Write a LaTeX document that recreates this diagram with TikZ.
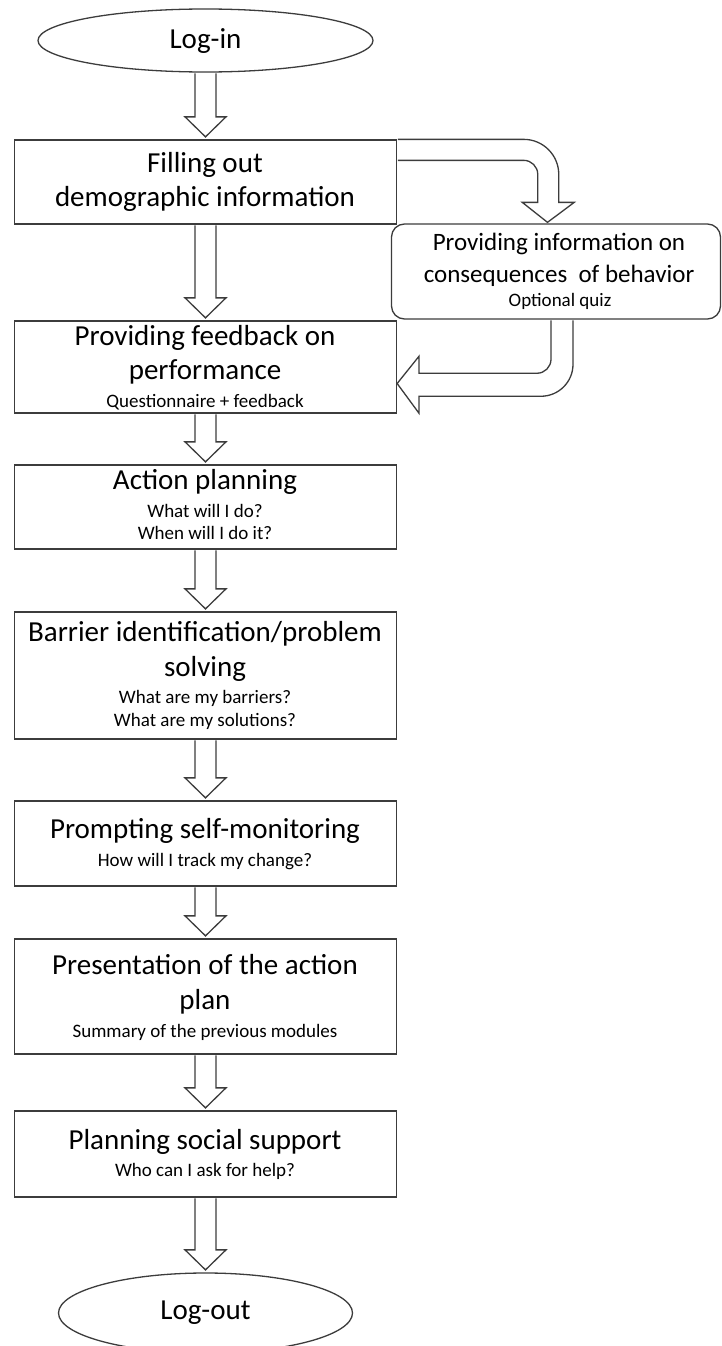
\documentclass[tikz,border=0pt]{standalone}
\usepackage{fontspec}
\setmainfont{Carlito}
\usetikzlibrary{calc,shapes.geometric}
\definecolor{linecol}{RGB}{60,60,60}
\tikzset{
  flowbox/.style={draw=linecol, line width=1.3pt, rectangle, minimum width=382pt, inner sep=0pt, fill=white},
  term/.style={draw=linecol, line width=1.3pt, ellipse, inner sep=0pt, fill=white, font=\fontsize{29}{34}\selectfont},
  bigtxt/.style={font=\fontsize{29}{34}\selectfont, anchor=base, yshift=-6.5pt, inner sep=0pt},
  midtxt/.style={font=\fontsize{25}{30}\selectfont, anchor=base, yshift=-5.6pt, inner sep=0pt},
  smalltxt/.style={font=\fontsize{19}{23}\selectfont, anchor=base, yshift=-4.3pt, inner sep=0pt},
  blockarrow/.style={draw=linecol, line width=1.3pt, fill=white, line join=miter}
}
\newcommand\vblock[2]{%
  \draw[blockarrow] ($(#1.south)+(-10.5,0.6)$) -- ($(#2.north)+(-10.5,-22.5)$)
    -- ($(#2.north)+(-20.5,-22.5)$) -- ($(#2.north)+(0,-2.5)$)
    -- ($(#2.north)+(20.5,-22.5)$) -- ($(#2.north)+(10.5,-22.5)$)
    -- ($(#1.south)+(10.5,0.6)$);}
\begin{document}
\begin{tikzpicture}[x=1pt,y=-1pt]
\useasboundingbox (0,0) rectangle (722,1346);

% terminals
\node[term, minimum width=335pt, minimum height=63pt, text height=22pt, text depth=6pt] (login) at (205.5,40.5) {Log-in};
\node[term, minimum width=294pt, minimum height=80pt, text height=20pt, text depth=7pt] (logout) at (205.5,1313) {Log-out};

% boxes
\node[flowbox, minimum height=84pt]  (b1) at (205.5,182) {};
\node[flowbox, minimum height=92pt]  (b2) at (205.5,367) {};
\node[flowbox, minimum height=84pt]  (b3) at (205.5,507) {};
\node[flowbox, minimum height=127pt] (b4) at (205.5,675.5) {};
\node[flowbox, minimum height=85pt]  (b5) at (205.5,843.5) {};
\node[flowbox, minimum height=115pt] (b6) at (205.5,996.5) {};
\node[flowbox, minimum height=86pt]  (b7) at (205.5,1154) {};
\node[flowbox, rounded corners=13pt, minimum width=329pt, minimum height=95pt] (rb) at (556,271.5) {};

% texts
\node[bigtxt] (t1a) at (205,166) {Filling out};
\node[bigtxt] (t1b) at (205,200) {demographic information};

\node[bigtxt] (t2a) at (205,339) {Providing feedback on};
\node[bigtxt] (t2b) at (205,373) {performance};
\node[smalltxt] (t2c) at (205,403) {Questionnaire + feedback};

\node[bigtxt] (t3a) at (205,483) {Action planning};
\node[smalltxt] (t3b) at (205,513) {What will I do?};
\node[smalltxt] (t3c) at (205,535) {When will I do it?};

\node[bigtxt] (t4a) at (205,635) {Barrier identification/problem};
\node[bigtxt] (t4b) at (205,670) {solving};
\node[smalltxt] (t4c) at (205,699) {What are my barriers?};
\node[smalltxt] (t4d) at (205,722) {What are my solutions?};

\node[bigtxt] (t5a) at (205,832) {Prompting self-monitoring};
\node[smalltxt] (t5b) at (205,862) {How will I track my change?};

\node[bigtxt] (t6a) at (205,968) {Presentation of the action};
\node[bigtxt] (t6b) at (205,1003) {plan};
\node[smalltxt] (t6c) at (205,1033) {Summary of the previous modules};

\node[bigtxt] (t7a) at (205,1143) {Planning social support};
\node[smalltxt] (t7b) at (205,1172) {Who can I ask for help?};

\node[midtxt] (tra) at (559,245) {Providing information on};
\node[midtxt] (trb) at (559,277) {consequences\ \ of behavior};
\node[smalltxt] (trc) at (560,302) {Optional quiz};

% straight block arrows
\vblock{login}{b1}
\vblock{b1}{b2}
\vblock{b2}{b3}
\vblock{b3}{b4}
\vblock{b4}{b5}
\vblock{b5}{b6}
\vblock{b6}{b7}
\vblock{b7}{logout}

% bent arrow: b1 -> rb
\coordinate (a1) at ($(b1.north east)+(0.6,0)$);
\draw[blockarrow] (a1) -- ($(a1)+(126,0)$)
  .. controls ($(a1)+(145.3,0)$) and ($(a1)+(161,15.7)$) .. ($(a1)+(161,35)$)
  -- ($(a1)+(161,63)$) -- ($(a1)+(176.5,63)$)
  -- ($(rb.north)+(-8.5,-1)$)
  -- ($(a1)+(124.5,63)$) -- ($(a1)+(140,63)$)
  -- ($(a1)+(140,35)$)
  .. controls ($(a1)+(140,27.3)$) and ($(a1)+(133.7,21)$) .. ($(a1)+(126,21)$)
  -- ($(a1)+(0,21)$);

% bent arrow: rb -> b2
\coordinate (a2) at ($(rb.south)+(0,0.6)$);
\draw[blockarrow] ($(a2)+(17,0)$) -- ($(a2)+(17,44)$)
  .. controls ($(a2)+(17,61.7)$) and ($(a2)+(2.7,76)$) .. ($(a2)+(-15,76)$)
  -- ($(a2)+(-137,76)$) -- ($(a2)+(-137,93)$)
  -- ($(b2.east)+(0,16.5)$)
  -- ($(a2)+(-137,36)$) -- ($(a2)+(-137,53)$)
  -- ($(a2)+(-19,53)$)
  .. controls ($(a2)+(-11.3,53)$) and ($(a2)+(-5,46.7)$) .. ($(a2)+(-5,39)$)
  -- ($(a2)+(-5,0)$);
\end{tikzpicture}
\end{document}
